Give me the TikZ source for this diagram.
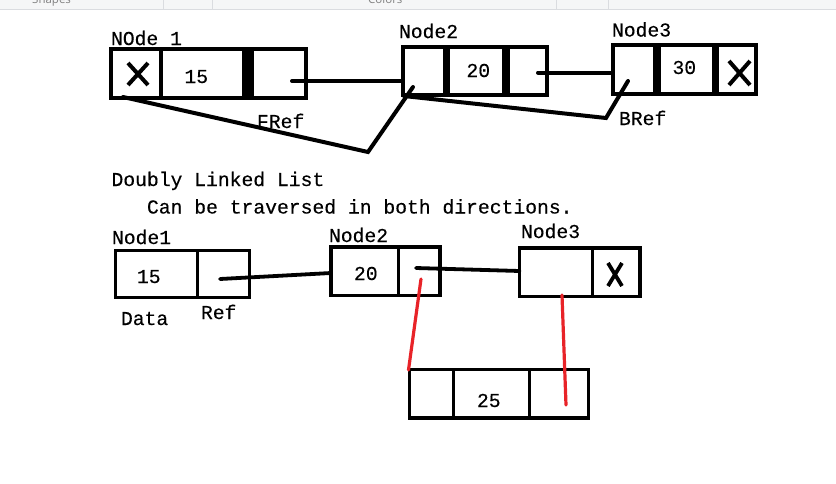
\documentclass[tikz,border=0pt]{standalone}
\usepackage{fontspec}
\newfontfamily\mono[FakeBold=0.35]{Liberation Mono}
\newfontfamily\uisans{Open Sans}
\definecolor{inkred}{RGB}{232,35,40}
\definecolor{stripbg}{RGB}{245,246,247}
\definecolor{stripline}{RGB}{218,220,224}
\begin{document}
\begin{tikzpicture}[x=1pt,y=-1pt,
  lbl/.style={font=\mono\fontsize{19.7}{24}\selectfont, inner sep=0pt, outer sep=0pt, anchor=base west},
  uitext/.style={font=\uisans\fontsize{11.5}{13}\selectfont, text=gray, inner sep=0pt, anchor=base west},
  tbox/.style={draw, line width=4pt, inner sep=0pt, outer sep=0pt},
  bbox/.style={draw, line width=3.5pt, inner sep=0pt, outer sep=0pt},
  wire/.style={line width=4pt, line cap=round, line join=miter},
  redwire/.style={draw=inkred, line width=3.2pt, line cap=round}]
\useasboundingbox (0,0) rectangle (836,483);
\fill[white] (0,0) rectangle (836,483);
% toolbar strip
\begin{scope}
  \clip (0,0) rectangle (836,9);
  \fill[stripbg] (0,0) rectangle (836,9);
  \node[uitext] (tbshapes) at (32,3.5) {Shapes};
  \node[uitext] (tbcolors) at (368,3.5) {Colors};
  \draw[stripline] (163,0) -- (163,9) (212,0) -- (212,9) (556,0) -- (556,9) (608,0) -- (608,9);
\end{scope}
\draw[stripline] (0,9.3) -- (836,9.3);

% ===== top row =====
\node[tbox, minimum width=195pt, minimum height=49pt] (tn1) at (208.5,73.5) {};
\draw[line width=4pt] (161,49) -- (161,98);
\draw[line width=12pt] (248,49) -- (248,98);
\node[lbl] (tn1lab) at (111,45) {NOde 1};
\node[lbl] (tn1val) at (184.5,83) {15};
\draw[line width=4pt] (128,63) -- (148,85) (148,63) -- (128,85);

\node[tbox, minimum width=144pt, minimum height=48.5pt] (tn2) at (474.5,70.75) {};
\draw[line width=7.5pt] (446.5,46.5) -- (446.5,95);
\draw[line width=8pt] (506,46.5) -- (506,95);
\node[lbl] (tn2lab) at (399,38) {Node2};
\node[lbl] (tn2val) at (466.5,77) {20};

\node[tbox, minimum width=143.5pt, minimum height=48.5pt] (tn3) at (684.25,69.25) {};
\draw[line width=8pt] (657,45) -- (657,93.5);
\draw[line width=7.5pt] (715.5,45) -- (715.5,93.5);
\node[lbl] (tn3lab) at (612,36.5) {Node3};
\node[lbl] (tn3val) at (672.5,74) {30};
\draw[line width=4pt] (729,61) -- (750,85) (750,61) -- (729,85);

\node[lbl] (freflab) at (257,128) {FRef};
\node[lbl] (breflab) at (619,125) {BRef};

\coordinate (t1r) at (292,81);
\coordinate (t2l) at (402.5,81);
\coordinate (t2r) at (538,72.5);
\coordinate (t3l) at (612.5,72.5);
\coordinate (t1bl) at (123,97);
\coordinate (fv) at (368,152);
\coordinate (t2in) at (413,87);
\coordinate (t2bl) at (404,96);
\coordinate (bv) at (606,118);
\coordinate (t3in) at (628,81);
\draw[wire] (t1r) -- (t2l);
\draw[wire] (t2r) -- (t3l);
\draw[wire] (t1bl) -- (fv) -- (t2in);
\draw[wire] (t2bl) -- (bv) -- (t3in);

% ===== text =====
\node[lbl] (title) at (111.5,186) {Doubly Linked List};
\node[lbl] (subtitle) at (147,213.5) {Can be traversed in both directions.};

% ===== bottom row =====
\node[bbox, minimum width=134pt, minimum height=47pt] (bn1) at (182.5,274) {};
\draw[line width=3.5pt] (197.5,250.5) -- (197.5,297.5);
\node[lbl] (bn1lab) at (112,244) {Node1};
\node[lbl] (bn1val) at (137,283) {15};
\node[lbl] (datalab) at (121,325) {Data};
\node[lbl] (reflab) at (201,319) {Ref};

\node[bbox, minimum width=109pt, minimum height=48.5pt] (bn2) at (385.5,271.25) {};
\draw[line width=3.5pt] (398.5,247) -- (398.5,295.5);
\node[lbl] (bn2lab) at (329,242) {Node2};
\node[lbl] (bn2val) at (354,280) {20};

\node[bbox, minimum width=120.5pt, minimum height=48.5pt] (bn3) at (579.75,272.25) {};
\draw[line width=3.5pt] (592.5,248) -- (592.5,296.5);
\node[lbl] (bn3lab) at (521,238) {Node3};
\draw[line width=3.8pt] (608,263) -- (622,286) (622,263) -- (608,286);

\node[bbox, minimum width=179pt, minimum height=48.5pt] (bn4) at (499,393.75) {};
\draw[line width=3.5pt] (453.5,369.5) -- (453.5,418) (529.5,369.5) -- (529.5,418);
\node[lbl] (bn4val) at (477,407) {25};

\coordinate (b1r) at (220,279);
\coordinate (b2l) at (331,273);
\coordinate (b2r) at (416,268);
\coordinate (bmid) at (468,269.5);
\coordinate (b3l) at (519.5,271);
\coordinate (b2down) at (421,279);
\coordinate (b4l) at (408.5,370);
\coordinate (b3down) at (562,295);
\coordinate (b4r) at (566,405);
\draw[wire, line width=3.8pt] (b1r) -- (b2l);
\draw[wire, line width=3.8pt] (b2r) -- (bmid) -- (b3l);
\draw[redwire] (b2down) -- (b4l);
\draw[redwire] (b3down) -- (b4r);
\end{tikzpicture}
\end{document}
